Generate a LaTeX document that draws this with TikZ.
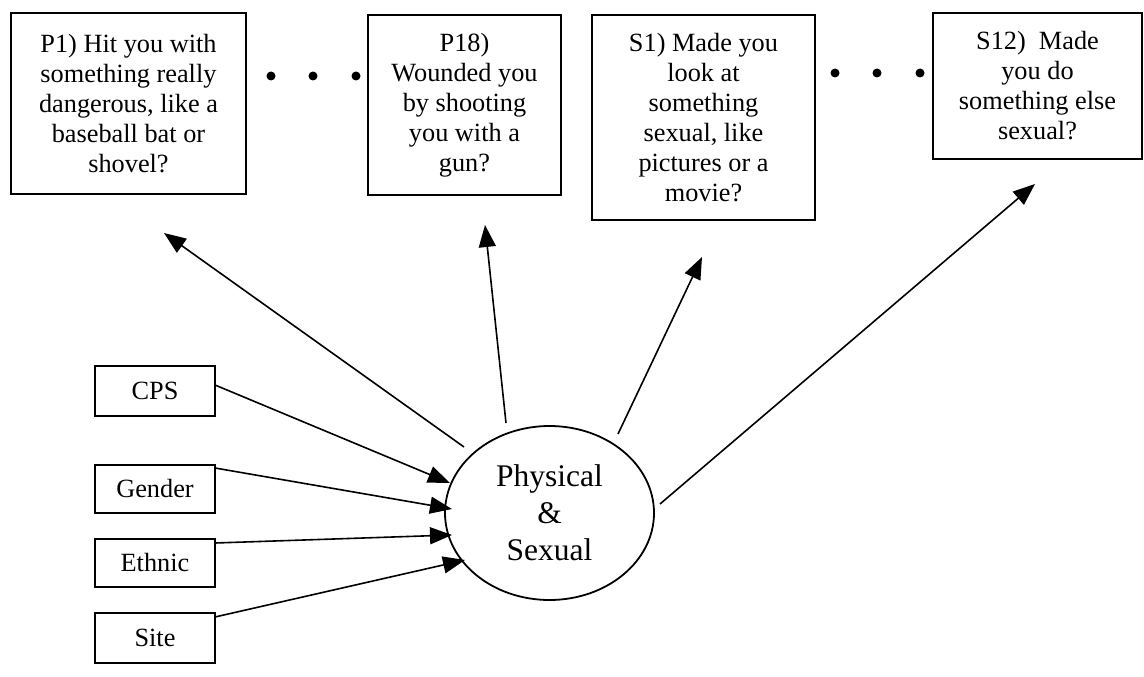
\documentclass[tikz,border=0pt]{standalone}
\usepackage{fontspec}
\setmainfont{Liberation Serif}
\usetikzlibrary{shapes.geometric,arrows.meta}
\newcommand{\boxfont}{\fontsize{26.3}{30}\selectfont}
\newcommand{\ellfont}{\fontsize{31.5}{37}\selectfont}
\begin{document}
\begin{tikzpicture}[x=1pt,y=-1pt,
  qbox/.style={draw, line width=1.8pt, align=center, inner sep=0pt, font=\boxfont},
  sbox/.style={draw, line width=1.8pt, align=center, inner sep=0pt, font=\boxfont, minimum width=120pt},
  arr/.style={line width=1.6pt, -{Triangle[length=22pt,width=17pt]}},
  dotc/.style={circle, fill=black, inner sep=0pt, minimum size=9pt}
]
\useasboundingbox (0,0) rectangle (1144,677);
% top boxes
\node[qbox, minimum width=235pt, minimum height=181pt] (p1) at (128.5,103.5)
  {P1) Hit you with\\something really\\dangerous, like a\\baseball bat or\\shovel?};
\node[qbox, minimum width=193pt, minimum height=180pt] (p18) at (464.5,105)
  {P18)\\Wounded you\\by shooting\\you with a\\gun?};
\node[qbox, minimum width=223pt, minimum height=205pt] (s1) at (703.5,117.5)
  {S1) Made you\\look at\\something\\sexual, like\\pictures or a\\movie?};
\node[qbox, minimum width=209pt, minimum height=146pt] (s12) at (1037.5,86)
  {S12)\ \ Made\\you do\\something else\\sexual?};
% dots
\node[dotc] (d1) at (271,76) {};
\node[dotc] (d2) at (313,76) {};
\node[dotc] (d3) at (356,76) {};
\node[dotc] (d4) at (835,73) {};
\node[dotc] (d5) at (877,73) {};
\node[dotc] (d6) at (920,73) {};
% left boxes
\node[sbox, minimum height=50pt] (cps) at (155,391) {CPS};
\node[sbox, minimum height=48pt] (gender) at (155,489) {Gender};
\node[sbox, minimum height=48pt] (ethnic) at (155,563) {Ethnic};
\node[sbox, minimum height=50pt] (site) at (155,638) {Site};
% ellipse
\node[draw, ellipse, line width=1.8pt, minimum width=209pt, minimum height=174pt,
  inner sep=0pt, align=center, font=\ellfont] (ell) at (549.5,513)
  {Physical\\\&\\Sexual};
% connector end points
\coordinate (ep1) at (464,447);
\coordinate (tp1) at (164,233);
\coordinate (ep18) at (506,423);
\coordinate (tp18) at (485,225);
\coordinate (es1) at (618,434);
\coordinate (ts1) at (702,257);
\coordinate (es12) at (660,504);
\coordinate (ts12) at (1035,184);
\coordinate (ocps) at (215,385);
\coordinate (icps) at (450,483);
\coordinate (ogender) at (215,468);
\coordinate (igender) at (452,509);
\coordinate (oethnic) at (215,543);
\coordinate (iethnic) at (452,535);
\coordinate (osite) at (215,617);
\coordinate (isite) at (465,560);
% connectors
\draw[arr] (ep1) -- (tp1);
\draw[arr] (ep18) -- (tp18);
\draw[arr] (es1) -- (ts1);
\draw[arr] (es12) -- (ts12);
\draw[arr] (ocps) -- (icps);
\draw[arr] (ogender) -- (igender);
\draw[arr] (oethnic) -- (iethnic);
\draw[arr] (osite) -- (isite);
\end{tikzpicture}
\end{document}
